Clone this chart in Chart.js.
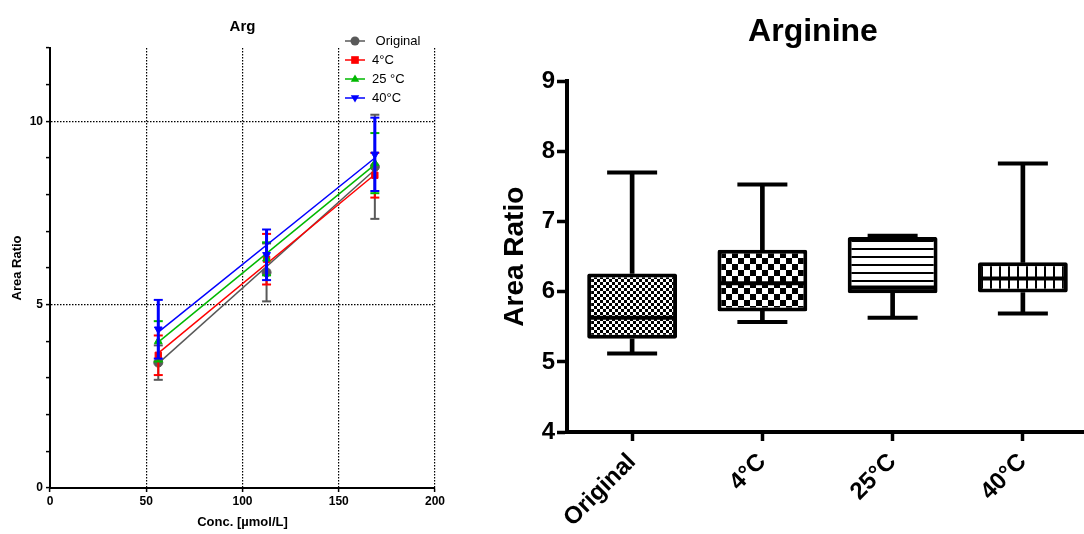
<!DOCTYPE html>
<html><head><meta charset="utf-8">
<script src="https://cdn.jsdelivr.net/npm/chart.js@4.4.0/dist/chart.umd.min.js"></script>
<style>
html,body{margin:0;padding:0;background:#fff;overflow:hidden;width:1084px;height:534px;position:relative;}
#left{position:absolute;left:0;top:0;width:484px;height:534px;}
#right{position:absolute;left:468px;top:0;width:690px;height:534px;}
#legend{position:absolute;left:343px;top:31px;font:13px "Liberation Sans",Arial,sans-serif;color:#000;}
.li{display:flex;align-items:center;height:19px;white-space:pre;}
.li canvas{width:24px;height:12px;margin-right:5px;}
</style></head>
<body>
<div id="left"><canvas id="c1" width="484" height="534"></canvas></div>
<div id="right"><canvas id="c2" width="690" height="534"></canvas></div>
<div id="legend"></div>
<script>
// ---------- Left panel: Arg calibration ----------
const concentrations = [56.25, 112.5, 168.75];
const seriesNames = [' Original', '4°C', '25 °C', '40°C'];
const meanOriginal = [3.42, 5.88, 8.76];
const sdOriginal   = [0.47, 0.79, 1.42];
const mean4C       = [3.62, 6.24, 8.53];
const sd4C         = [0.54, 0.69, 0.61];
const mean25C      = [4.00, 6.25, 8.86];
const sd25C        = [0.55, 0.45, 0.82];
const mean40C      = [4.33, 6.36, 9.10];
const sd40C        = [0.80, 0.69, 1.00];
// fitted regression line values at the first and last concentration
const fitOriginal  = [3.40, 8.68];
const fit4C        = [3.68, 8.55];
const fit25C       = [3.98, 8.82];
const fit40C       = [4.25, 9.00];
const xTicksLeft = [0, 50, 100, 150, 200];
const yLabelsLeft = [0, 5, 10];

// ---------- Right panel: Arginine box plot ----------
const groups    = ['Original', '4°C', '25°C', '40°C'];
const boxMin    = [5.12, 5.57, 5.63, 5.69];
const boxQ1     = [5.33, 5.72, 5.98, 5.99];
const boxMedian = [5.63, 6.12, 6.06, 6.19];
const boxQ3     = [6.26, 6.60, 6.78, 6.42];
const boxMax    = [7.70, 7.53, 6.80, 7.83];
const yTicksRight = [4, 5, 6, 7, 8, 9];

const F = '"Liberation Sans", Arial, Helvetica, sans-serif';
const colors = ['#595959', '#ff0000', '#00b800', '#0000ff'];
const pStyles = ['circle', 'rect', 'triangle', 'triangle'];
const pRot = [0, 0, 0, 180];
const means = [meanOriginal, mean4C, mean25C, mean40C];
const sds = [sdOriginal, sd4C, sd25C, sd40C];
const fits = [fitOriginal, fit4C, fit25C, fit40C];

const leftDatasets = [];
for (let s = 3; s >= 0; s--) {
  const c = colors[s];
  const err = [];
  concentrations.forEach((x, i) => {
    err.push({x: x, y: means[s][i] - sds[s][i]});
    err.push({x: x, y: means[s][i] + sds[s][i]});
    err.push({x: x, y: null});
  });
  leftDatasets.push({
    type: 'line', data: err, borderColor: c, borderWidth: s === 3 ? 3 : 2,
    spanGaps: false, fill: false, pointStyle: 'line', pointRadius: 4.5,
    pointBorderWidth: 2, pointBorderColor: c, pointBackgroundColor: c
  });
  leftDatasets.push({
    type: 'line', showLine: false,
    data: concentrations.map((x, i) => ({x: x, y: means[s][i]})),
    pointStyle: pStyles[s], rotation: pRot[s], pointRadius: 4.5,
    pointBackgroundColor: c, pointBorderColor: c, pointBorderWidth: 1
  });
  leftDatasets.push({
    type: 'line',
    data: [{x: concentrations[0], y: fits[s][0]}, {x: concentrations[concentrations.length - 1], y: fits[s][1]}],
    borderColor: c, borderWidth: 1.5, pointRadius: 0, fill: false
  });
}

new Chart(document.getElementById('c1'), {
  type: 'line',
  data: {datasets: leftDatasets},
  options: {
    responsive: false, animation: false, devicePixelRatio: 1,
    layout: {padding: {left: 0, right: 49, top: 0, bottom: 0}},
    plugins: {
      legend: {display: false}, tooltip: {enabled: false},
      title: {display: true, text: 'Arg', color: '#000', fullSize: false,
        font: {family: F, size: 15, weight: 'bold'}, padding: {top: 18, bottom: 12}}
    },
    scales: {
      x: {
        type: 'linear', min: 0, max: 200,
        afterBuildTicks: sc => { sc.ticks = xTicksLeft.map(v => ({value: v})); },
        afterFit: sc => { sc.height = 46; },
        ticks: {color: '#000', font: {family: F, size: 12, weight: 'bold'}, padding: 2, maxRotation: 0},
        grid: {color: c => (c.tick && c.tick.value > 0) ? '#000' : 'rgba(0,0,0,0)', lineWidth: 1.2,
          tickColor: '#000', tickLength: 4, tickWidth: 1.5},
        border: {color: '#000', width: 2, dash: [1.5, 1.5]},
        title: {display: true, text: 'Conc. [µmol/L]', color: '#000',
          font: {family: F, size: 13, weight: 'bold'}, padding: {top: 0, bottom: 4}}
      },
      y: {
        min: 0, max: 12,
        afterFit: sc => { sc.width = 50; },
        ticks: {stepSize: 1, autoSkip: false, color: '#000', font: {family: F, size: 12, weight: 'bold'}, padding: 3,
          callback: v => yLabelsLeft.includes(v) ? String(v) : ''},
        grid: {color: c => (c.tick && yLabelsLeft.includes(c.tick.value) && c.tick.value > 0) ? '#000' : 'rgba(0,0,0,0)',
          lineWidth: 1.2, tickColor: '#000', tickLength: 4, tickWidth: 1.5},
        border: {color: '#000', width: 2, dash: [1.5, 1.5]},
        title: {display: true, text: 'Area Ratio', color: '#000',
          font: {family: F, size: 13, weight: 'bold'}, padding: {top: 10, bottom: 0}}
      }
    }
  }
});

// HTML legend for the left panel
function drawMarker(g, style, rot, x, y, r, color) {
  g.fillStyle = color;
  g.beginPath();
  if (style === 'circle') { g.arc(x, y, r, 0, Math.PI * 2); }
  else if (style === 'rect') { g.rect(x - r * 0.85, y - r * 0.85, r * 1.7, r * 1.7); }
  else {
    const d = rot === 180 ? -1 : 1;
    g.moveTo(x, y - d * r);
    g.lineTo(x + r * 0.95, y + d * r * 0.6);
    g.lineTo(x - r * 0.95, y + d * r * 0.6);
    g.closePath();
  }
  g.fill();
}
const legendEl = document.getElementById('legend');
seriesNames.forEach((name, s) => {
  const row = document.createElement('div'); row.className = 'li';
  const cv = document.createElement('canvas'); cv.width = 24; cv.height = 12;
  const g = cv.getContext('2d');
  g.strokeStyle = colors[s]; g.lineWidth = 1.5;
  g.beginPath(); g.moveTo(2, 6); g.lineTo(22, 6); g.stroke();
  drawMarker(g, pStyles[s], pRot[s], 12, 6, 4.5, colors[s]);
  const sp = document.createElement('span'); sp.textContent = name;
  row.appendChild(cv); row.appendChild(sp); legendEl.appendChild(row);
});

// ---------- Right panel ----------
const ctx2 = document.getElementById('c2').getContext('2d');
function pattern(w, h, draw, bg) {
  const c = document.createElement('canvas'); c.width = w; c.height = h;
  const g = c.getContext('2d');
  g.fillStyle = bg || '#fff'; g.fillRect(0, 0, w, h);
  g.fillStyle = '#000'; draw(g);
  return ctx2.createPattern(c, 'repeat');
}
const boxFills = [
  pattern(6, 6, g => { g.fillRect(0, 0, 3, 3); g.fillRect(3, 3, 3, 3); }),
  pattern(12, 12, g => { g.fillRect(0, 0, 6, 6); g.fillRect(6, 6, 6, 6); }),
  pattern(4, 8, g => { g.fillRect(0, 0, 4, 2); }),
  pattern(9, 4, g => { g.fillRect(0, 0, 2, 4); })
];

new Chart(ctx2, {
  type: 'bar',
  data: {
    labels: groups,
    datasets: [
      {type: 'line', showLine: false, data: boxMedian, pointStyle: 'line', pointRadius: 43,
        pointBorderWidth: 4, pointBorderColor: '#000', order: 0},
      {type: 'bar', data: groups.map((g, i) => [boxQ1[i], boxQ3[i]]), backgroundColor: boxFills,
        borderColor: '#000', borderWidth: 4, borderSkipped: false, borderRadius: 2,
        barPercentage: 0.69, categoryPercentage: 1, grouped: false, order: 1},
      {type: 'bar', data: groups.map((g, i) => [boxMin[i], boxQ1[i]]), backgroundColor: '#000',
        borderWidth: 0, barThickness: 4, grouped: false, order: 2},
      {type: 'bar', data: groups.map((g, i) => [boxQ3[i], boxMax[i]]), backgroundColor: '#000',
        borderWidth: 0, barThickness: 4, grouped: false, order: 2},
      {type: 'line', showLine: false, data: boxMin, pointStyle: 'line', pointRadius: 25,
        pointBorderWidth: 4, pointBorderColor: '#000', order: 2},
      {type: 'line', showLine: false, data: boxMax, pointStyle: 'line', pointRadius: 25,
        pointBorderWidth: 4, pointBorderColor: '#000', order: 2}
    ]
  },
  options: {
    responsive: false, animation: false, devicePixelRatio: 1,
    layout: {padding: {left: 0, right: 0, top: 0, bottom: 0}},
    plugins: {
      legend: {display: false}, tooltip: {enabled: false},
      title: {display: true, text: 'Arginine', color: '#000',
        font: {family: F, size: 32, weight: 'bold'}, padding: {top: 13, bottom: 30}}
    },
    scales: {
      x: {
        offset: true,
        afterFit: sc => { sc.height = 102; },
        ticks: {color: '#000', font: {family: F, size: 24, weight: 'bold'}, minRotation: 45, maxRotation: 45, padding: 7},
        grid: {offset: false, drawOnChartArea: false, tickColor: '#000', tickLength: 9, tickWidth: 3.5},
        border: {color: '#000', width: 4}
      },
      y: {
        min: 4, max: 9,
        afterBuildTicks: sc => { sc.ticks = yTicksRight.map(v => ({value: v})); },
        afterFit: sc => { sc.width = 99; },
        ticks: {color: '#000', font: {family: F, size: 24, weight: 'bold'}, padding: 2},
        grid: {drawOnChartArea: false, tickColor: '#000', tickLength: 10, tickWidth: 3.5},
        border: {color: '#000', width: 4},
        title: {display: true, text: 'Area Ratio', color: '#000',
          font: {family: F, size: 28, weight: 'bold'}, padding: {top: 30, bottom: 0}}
      },
      yRightSpace: {
        position: 'right', display: true, min: 4, max: 9,
        afterFit: sc => { sc.width = 70; },
        ticks: {display: false}, grid: {display: false}, border: {display: false}
      }
    }
  }
});
</script>
</body></html>
